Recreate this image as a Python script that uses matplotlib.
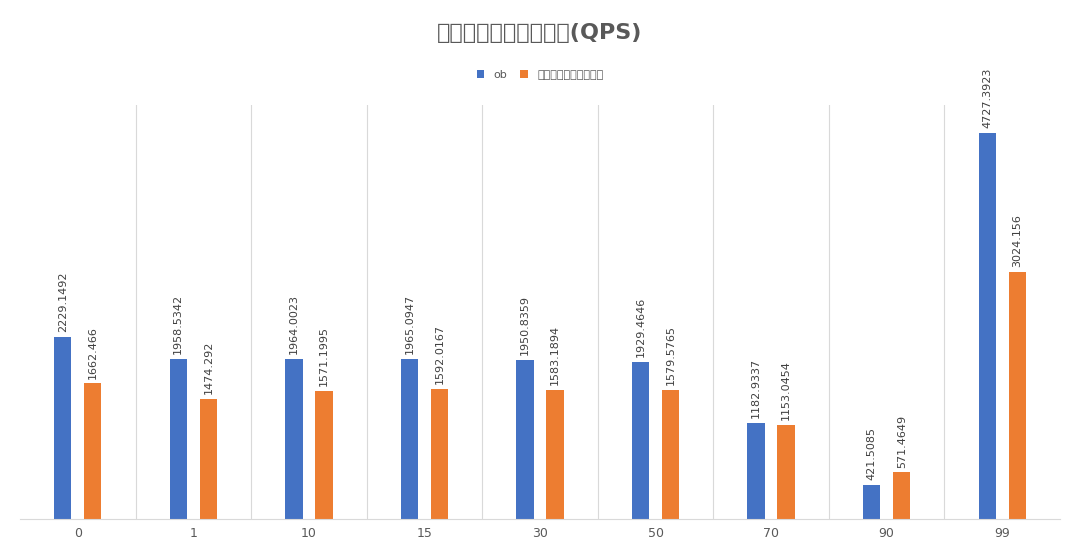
import matplotlib.pyplot as plt
from matplotlib import font_manager
import numpy as np

cjk_names = [f.name for f in font_manager.fontManager.ttflist if "CJK SC" in f.name]
if not cjk_names:
    cjk_names = [f.name for f in font_manager.fontManager.ttflist if "CJK" in f.name]
plt.rcParams["font.family"] = ["sans-serif"]
plt.rcParams["font.sans-serif"] = ["DejaVu Sans"] + cjk_names[:1]

categories = ["0", "1", "10", "15", "30", "50", "70", "90", "99"]
ob_values = [2229.1492, 1958.5342, 1964.0023, 1965.0947, 1950.8359, 1929.4646, 1182.9337, 421.5085, 4727.3923]
other_values = [1662.466, 1474.292, 1571.1995, 1592.0167, 1583.1894, 1579.5765, 1153.0454, 571.4649, 3024.156]
series_names = ["ob", "某主流开源向量数据库"]

figure = plt.figure(figsize=(10.8, 5.57), dpi=100)
axis = figure.add_axes([0.0185, 0.068, 0.963, 0.743])

x_positions = np.arange(len(categories))
offset = 0.13
width = 0.15
blue, orange = "#4472C4", "#ED7D31"
axis.bar(x_positions - offset, ob_values, width, color=blue, label=series_names[0])
axis.bar(x_positions + offset, other_values, width, color=orange, label=series_names[1])

for x_pos, value in zip(x_positions, ob_values):
    axis.text(x_pos - offset, value + 60, str(value), rotation=90, ha="center", va="bottom",
              fontsize=8, color="#404040")
for x_pos, value in zip(x_positions, other_values):
    axis.text(x_pos + offset, value + 60, str(value), rotation=90, ha="center", va="bottom",
              fontsize=8, color="#404040")

axis.set_xlim(-0.5, len(categories) - 0.5)
axis.set_ylim(0, 5070)
for separator in np.arange(0.5, len(categories) - 0.5):
    axis.axvline(separator, color="#D9D9D9", linewidth=0.8)
axis.set_xticks(x_positions)
axis.set_xticklabels(categories, fontsize=9, color="#595959")
axis.tick_params(axis="x", length=0, pad=6)
axis.set_yticks([])
for side in ("top", "left", "right"):
    axis.spines[side].set_visible(False)
axis.spines["bottom"].set_color("#D9D9D9")

figure.text(0.5, 0.94, "不同过滤率下性能对比(QPS)", ha="center", va="center",
            fontsize=16, fontweight="bold", color="#595959")
figure.legend(loc="center", bbox_to_anchor=(0.5, 0.865), ncol=2, frameon=False,
              fontsize=8, handlelength=0.7, handleheight=0.7, columnspacing=1.2,
              labelcolor="#595959")

figure.savefig("out.png", dpi=100)
